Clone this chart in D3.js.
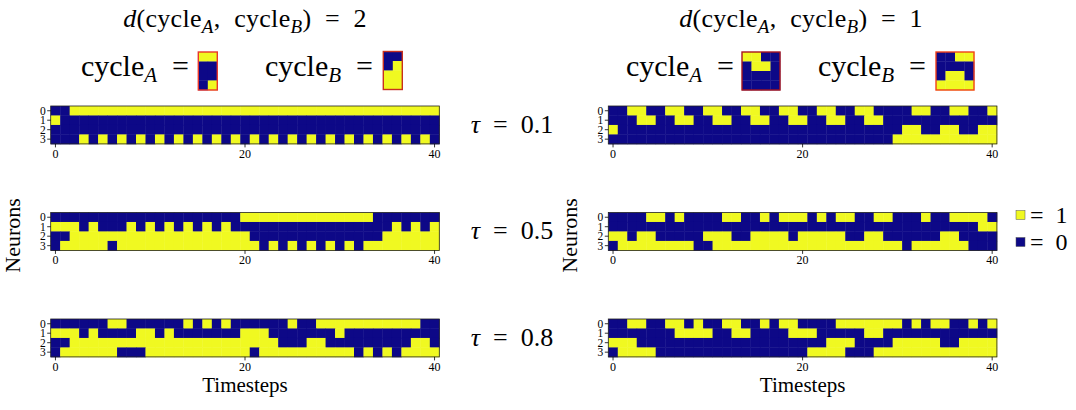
<!DOCTYPE html>
<html>
<head>
<meta charset="utf-8">
<script src="https://cdn.jsdelivr.net/npm/d3@7"></script>
<style>
  html, body { margin: 0; padding: 0; background: #fff; }
  svg { display: block; }
  text { font-family: "Liberation Serif", "DejaVu Serif", serif; white-space: pre; }
</style>
</head>
<body>
<div id="chart"></div>
<script>
// neuron activity grids, one string per neuron (row), 41 timesteps each
const gridLeft01 = [
  "0011111111 1111111111 1111111111 1111111111 1",
  "1000000000 0000000000 0000000000 0000000000 0",
  "0000000000 0000000000 0000000000 0000000000 0",
  "0001010101 0101010101 0101010101 0101010101 0"
];
const gridLeft05 = [
  "0000000000 0000000000 1111111111 1111000000 0",
  "1110100010 1010101010 0000000000 0000001010 1",
  "0011111111 1111111111 1000000000 0000011111 1",
  "0111110111 1111111111 1101010101 0101111111 1"
];
const gridLeft08 = [
  "0000001100 0000101010 0000010011 1111111110 0",
  "1110100001 1010000000 1110000000 1000000000 0",
  "0011111111 1111111111 1111000110 0000000011 0",
  "0111111000 1111111111 1011111111 1101010111 1"
];
const gridRight01 = [
  "0011001100 1100110011 0011001100 0011001100 1",
  "0001100110 0110011001 1001100110 0000000000 0",
  "1000000000 0000000000 0000000000 0110011001 1",
  "0000000000 0000000000 0000000000 1111111111 1"
];
const gridRight05 = [
  "0000110100 0011001011 1010110011 0001001111 0",
  "0000000000 0000000000 0000000000 0000000001 1",
  "1101100000 1110011110 1111100110 0000011000 0",
  "0111111110 0111111111 1111111111 1011111100 0"
];
const gridRight08 = [
  "0011001101 0011001011 0000111111 1010110010 1",
  "0000000111 1001100001 1100000110 0000000000 0",
  "1110000000 0000000000 0001110000 1111100111 1",
  "0111100000 0000000000 0111100011 1111111111 1"
];

// the two target cycles drawn in the header
const cycleALeft = ["11", "00", "00", "01"];
const cycleBLeft = ["00", "01", "11", "11"];
const cycleARight = ["1100", "0110", "0000", "0000"];
const cycleBRight = ["0011", "0000", "0110", "1111"];

const tauLabels = ["0.1", "0.5", "0.8"];
const distances = ["2", "1"];
const xTicks = [0, 20, 40];
const neuronIds = [0, 1, 2, 3];
const timesteps = d3.range(41);

const parseRow = (s) => s.replace(/\s/g, "").split("").map(Number);

const W = 1076, H = 410;
const svg = d3.select("#chart").append("svg")
  .attr("width", W).attr("height", H);

const color = (v) => d3.interpolatePlasma(v);

const gridW = 388.6, gridH = 37.9;
const colX = [50.7, 608.3];
const panelTops = [106, 212.5, 319];

const grids = [
  [gridLeft01, gridLeft05, gridLeft08],
  [gridRight01, gridRight05, gridRight08]
];

const x = d3.scaleBand().domain(timesteps).range([0, gridW]);
const y = d3.scaleBand().domain(neuronIds).range([0, gridH]);

grids.forEach((col, ci) => {
  col.forEach((rows, pi) => {
    const g = svg.append("g")
      .attr("transform", `translate(${colX[ci]},${panelTops[pi]})`);

    const cells = [];
    rows.forEach((s, r) => parseRow(s).forEach((v, t) => cells.push({ r, t, v })));

    g.selectAll("rect.cell")
      .data(cells)
      .enter()
      .append("rect")
      .attr("class", "cell")
      .attr("x", (d) => x(d.t))
      .attr("y", (d) => y(d.r))
      .attr("width", x.bandwidth() + 0.4)
      .attr("height", y.bandwidth() + 0.4)
      .attr("fill", (d) => color(d.v));

    g.append("rect")
      .attr("width", gridW).attr("height", gridH)
      .attr("fill", "none").attr("stroke", "#222").attr("stroke-width", 0.8);

    const xa = g.append("g")
      .attr("transform", `translate(0,${gridH})`)
      .call(d3.axisBottom(x).tickValues(xTicks).tickSize(3.5).tickPadding(2));
    const ya = g.append("g")
      .call(d3.axisLeft(y).tickSize(3.5).tickPadding(1.5));
    [xa, ya].forEach((a) => {
      a.select(".domain").remove();
      a.attr("font-family", null).attr("font-size", null);
      a.selectAll("text").style("font-size", "12px").attr("fill", "#000");
      a.selectAll("line").attr("stroke", "#000").attr("stroke-width", 0.8);
    });
    ya.selectAll("text").style("font-size", "11.5px").attr("dy", "0.36em");
  });
});

// tau labels between the columns
tauLabels.forEach((tau, i) => {
  const t = svg.append("text")
    .attr("x", 512).attr("y", panelTops[i] + gridH / 2 + 8)
    .attr("text-anchor", "middle")
    .style("font-size", "26px");
  t.append("tspan").style("font-style", "italic").text("τ");
  t.append("tspan").text("  =  " + tau);
});

// axis titles
[0, 1].forEach((ci) => {
  svg.append("text")
    .attr("x", colX[ci] + gridW / 2).attr("y", 392)
    .attr("text-anchor", "middle")
    .style("font-size", "21px")
    .text("Timesteps");
  svg.append("text")
    .attr("transform", `translate(${colX[ci] - 31},${panelTops[1] + gridH / 2 + 4}) rotate(-90)`)
    .attr("text-anchor", "middle")
    .style("font-size", "22px")
    .text("Neurons");
});

// header: distance titles
function cycleText(sel, letter, size, shift) {
  sel.append("tspan").text("cycle");
  sel.append("tspan").attr("dy", shift).style("font-size", size)
    .style("font-style", "italic").text(letter);
}

const headerCenters = [245, 801];
distances.forEach((dist, ci) => {
  const t = svg.append("text")
    .attr("x", headerCenters[ci]).attr("y", 27)
    .attr("text-anchor", "middle")
    .style("font-size", "26px")
    .style("letter-spacing", "0.3px");
  t.append("tspan").style("font-style", "italic").text("d");
  t.append("tspan").text("(");
  cycleText(t, "A", "19px", 6);
  t.append("tspan").attr("dy", -6).text(",  ");
  cycleText(t, "B", "19px", 6);
  t.append("tspan").attr("dy", -6).text(")  =  " + dist);
});

// header: cycle icons
const icons = [
  { rows: cycleALeft, x: 198.3, y: 52, label: "A", tx: 189, stroke: "#e8372c" },
  { rows: cycleBLeft, x: 383.3, y: 51.5, label: "B", tx: 373, stroke: "#c8301e" },
  { rows: cycleARight, x: 742, y: 52, label: "A", tx: 734, stroke: "#a8161e" },
  { rows: cycleBRight, x: 936, y: 52, label: "B", tx: 926, stroke: "#f0401c" }
];

icons.forEach((ic) => {
  const nCols = ic.rows[0].length;
  const ix = d3.scaleBand().domain(d3.range(nCols)).range([0, nCols * 9.5]);
  const iy = d3.scaleBand().domain(d3.range(4)).range([0, 38]);
  const g = svg.append("g").attr("transform", `translate(${ic.x},${ic.y})`);
  const cells = [];
  ic.rows.forEach((s, r) => parseRow(s).forEach((v, c) => cells.push({ r, c, v })));
  g.selectAll("rect.icell")
    .data(cells)
    .enter()
    .append("rect")
    .attr("class", "icell")
    .attr("x", (d) => ix(d.c))
    .attr("y", (d) => iy(d.r))
    .attr("width", ix.bandwidth() + 0.3)
    .attr("height", iy.bandwidth() + 0.3)
    .attr("fill", (d) => color(d.v));
  g.append("rect")
    .attr("width", nCols * 9.5).attr("height", 38)
    .attr("fill", "none").attr("stroke", ic.stroke).attr("stroke-width", 1.4);

  const t = svg.append("text")
    .attr("x", ic.tx).attr("y", 76)
    .attr("text-anchor", "end")
    .style("font-size", "30px");
  cycleText(t, ic.label, "21px", 6);
  t.append("tspan").attr("dy", -6).text("  =");
});

// legend
const legendVals = [1, 0];
legendVals.forEach((v, i) => {
  const cy = 215 + i * 27;
  svg.append("rect")
    .attr("x", 1016).attr("y", cy - 4.5)
    .attr("width", 9).attr("height", 9)
    .attr("fill", color(v))
    .attr("stroke", "#555").attr("stroke-width", 0.5);
  svg.append("text")
    .attr("x", 1030).attr("y", cy + 8)
    .style("font-size", "24px")
    .text("=  " + v);
});
</script>
</body>
</html>
